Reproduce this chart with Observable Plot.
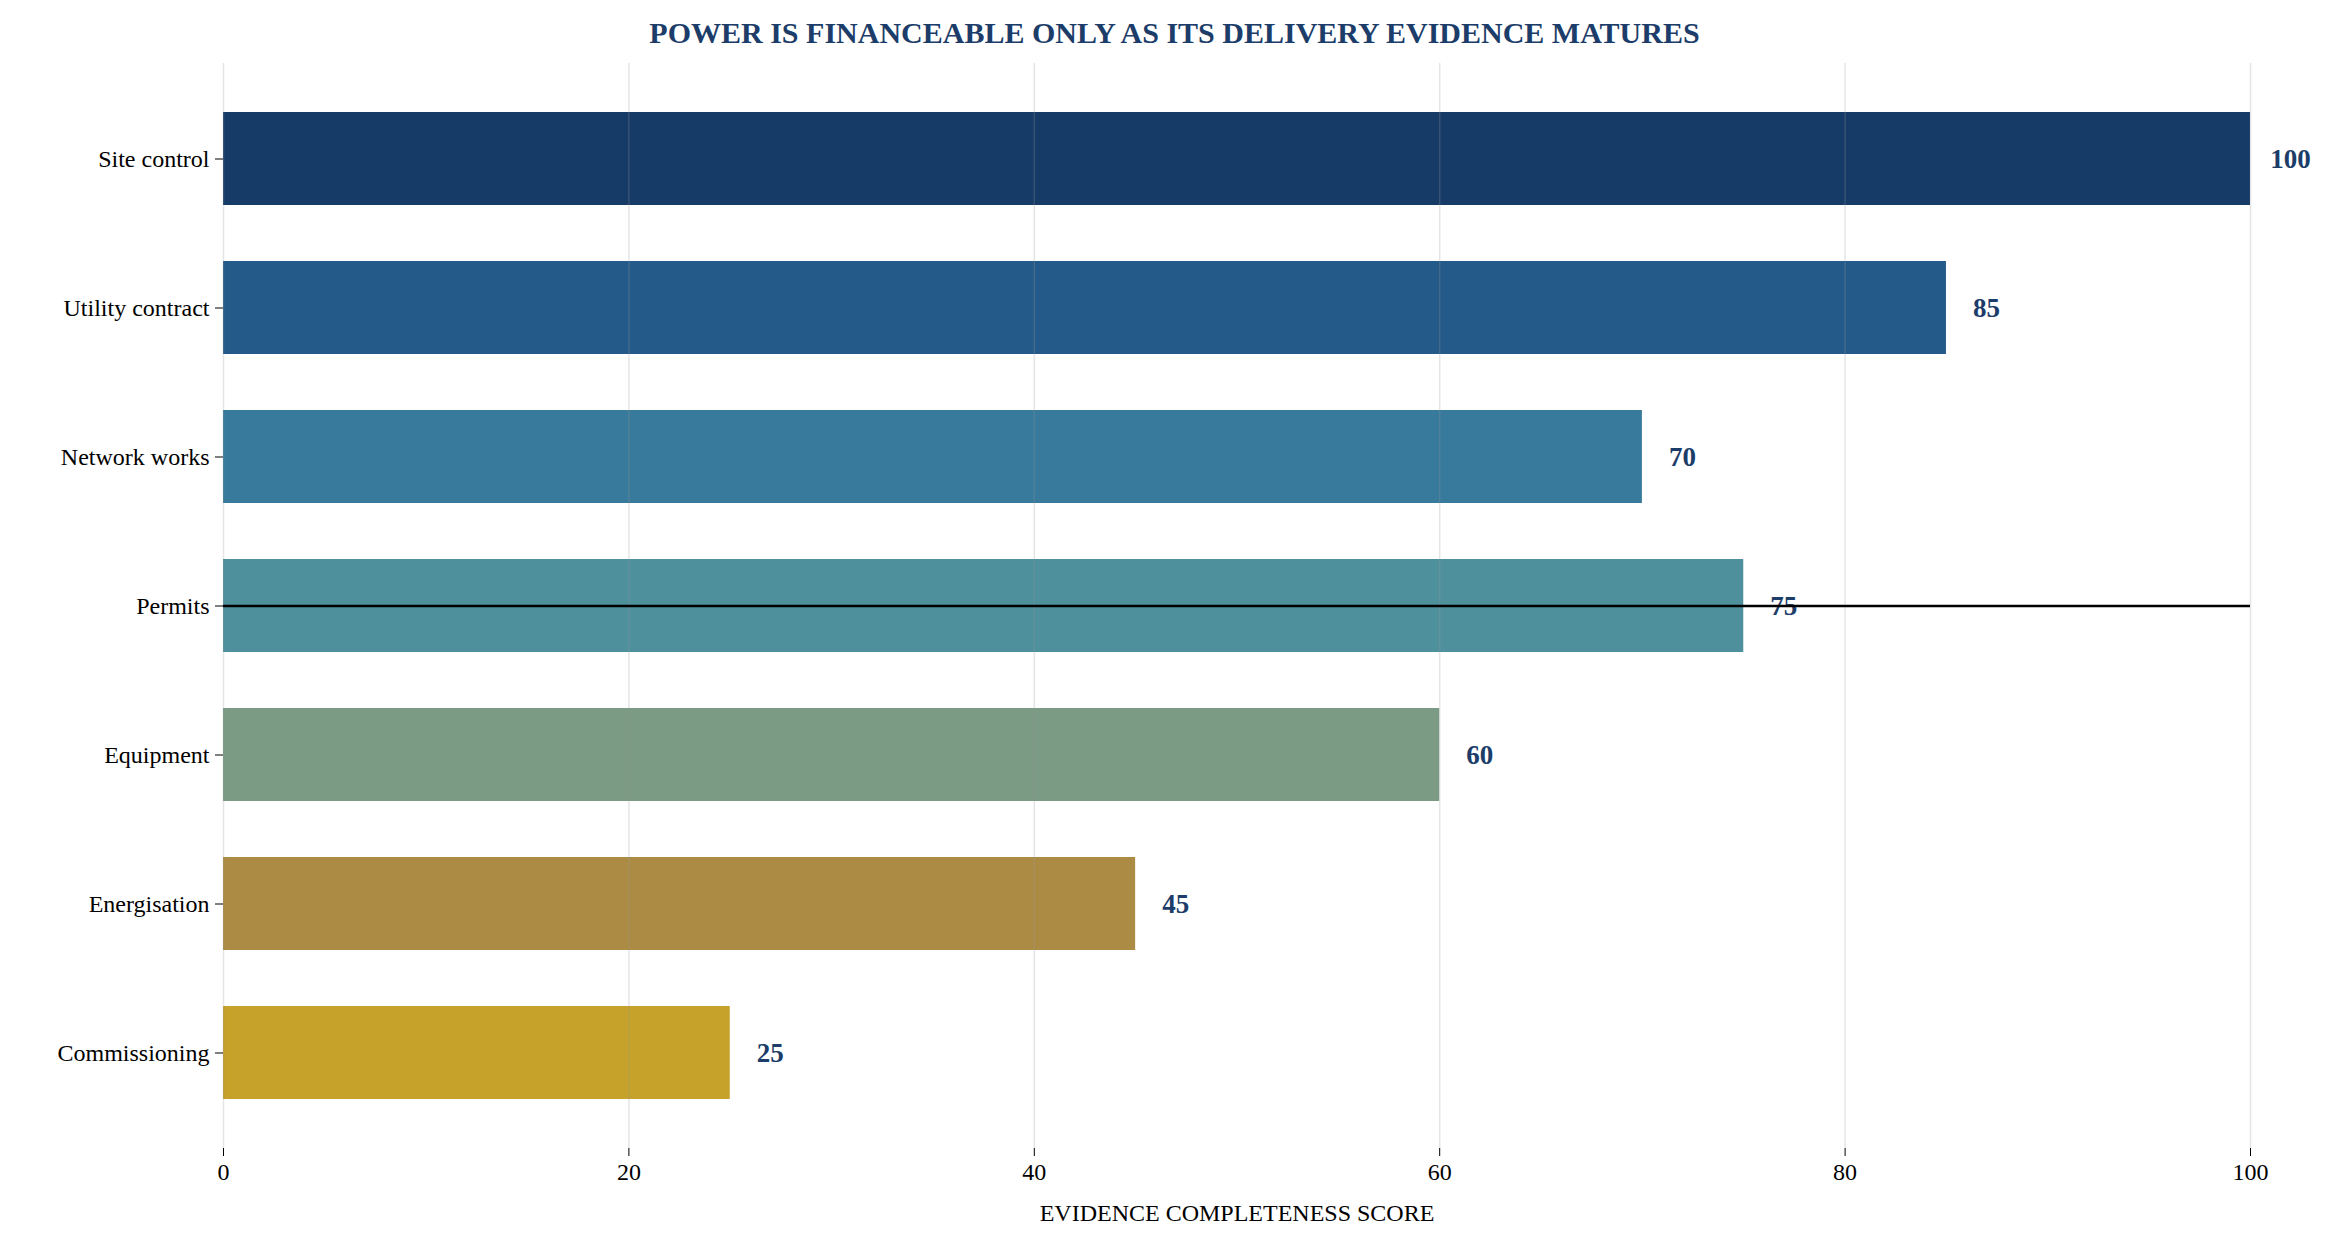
<!DOCTYPE html>
<html><head><meta charset="utf-8">
<script src="https://cdn.jsdelivr.net/npm/d3@7"></script>
<script src="https://cdn.jsdelivr.net/npm/@observablehq/plot@0.6"></script>
<style>
body{margin:0;background:#fff;font-family:"Liberation Serif",serif;}
#title{height:50px;line-height:66px;text-align:center;font-weight:bold;font-size:30px;color:#1c3d69;}
</style></head><body>
<div id="title">POWER IS FINANCEABLE ONLY AS ITS DELIVERY EVIDENCE MATURES</div>
<div id="chart"></div>
<script>
const categories = ["Site control","Utility contract","Network works","Permits","Equipment","Energisation","Commissioning"];
const scores = [100,85,70,75,60,45,25];
const colors = ["#173b67","#245a89","#377a9b","#4e909c","#7b9b85","#ac8c45","#c6a22a"];
const xTicks = [0,20,40,60,80,100];
const data = categories.map((c,i)=>({cat:c,score:scores[i],color:colors[i]}));
const plot = Plot.plot({
  width:2349, height:1202,
  marginTop:13, marginBottom:104, marginLeft:223, marginRight:99,
  style:{fontFamily:"Liberation Serif, serif", fontSize:"24px", color:"#000"},
  x:{domain:[0,100], ticks:xTicks, label:"EVIDENCE COMPLETENESS SCORE", labelAnchor:"center", labelArrow:"none", labelOffset:70, tickSize:8},
  y:{domain:categories, label:null, paddingInner:0.375, paddingOuter:0.32, tickSize:8},
  marks:[
    Plot.barX(data,{y:"cat",x:"score",fill:"color"}),
    Plot.gridX(xTicks,{stroke:"#999",strokeOpacity:0.25,strokeWidth:1.5}),
    Plot.text(data,{y:"cat",x:"score",text:d=>String(d.score),dx:40,fill:"#1c3d69",fontWeight:"bold",fontSize:27}),
    Plot.axisY({tickSize:8,label:null,tickPadding:6}),
    Plot.axisX({ticks:xTicks,tickSize:8,label:"EVIDENCE COMPLETENESS SCORE",labelAnchor:"center",labelArrow:"none",labelOffset:72,tickPadding:6}),
    Plot.ruleY([0],{y:null,frameAnchor:"bottom",stroke:"#000",strokeWidth:2.5})
  ]
});
document.getElementById("chart").appendChild(plot);
</script></body></html>
